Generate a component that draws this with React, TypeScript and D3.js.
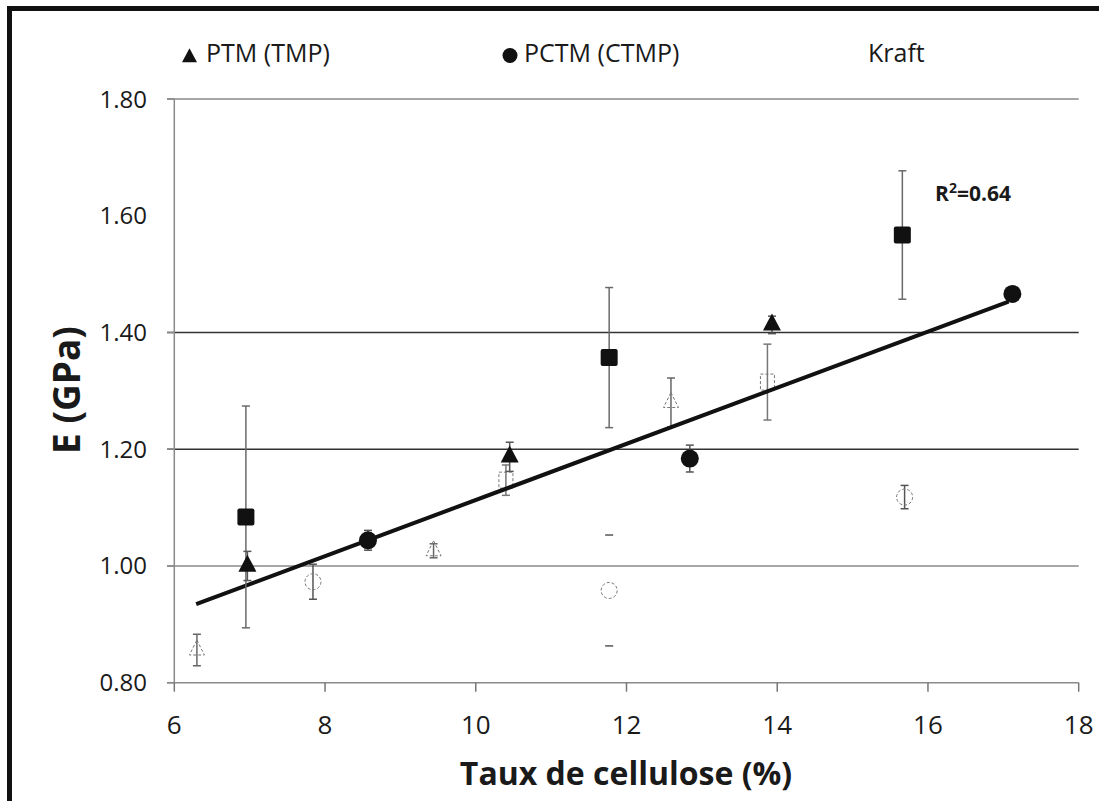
import React from "react";
import * as d3 from "d3";

// ---- data ----
const xTicks = [6, 8, 10, 12, 14, 16, 18];
const yTicks = [0.8, 1.0, 1.2, 1.4, 1.6, 1.8];
const yTickMarks = [0.8, 1.0, 1.2, 1.4, 1.8];
const darkGrid = [1.2, 1.4];
const lightGrid = [1.0, 1.8];

// filled series
const tmpX = [6.97, 10.45, 13.93];
const tmpY = [1.0, 1.187, 1.413];
const tmpErr = [0.025, 0.025, 0.015];

const ctmpX = [8.57, 12.84, 17.12];
const ctmpY = [1.044, 1.184, 1.466];
const ctmpErr = [0.017, 0.023, 0];

const kraftX = [6.95, 11.77, 15.66];
const kraftY = [1.084, 1.357, 1.567];
const kraftErr = [0.19, 0.12, 0.11];

// open (dashed) series
const tmpOpenX = [6.3, 9.44, 12.59];
const tmpOpenY = [0.856, 1.026, 1.28];
const tmpOpenErr = [0.027, 0.012, 0.042];

const ctmpOpenX = [7.84, 11.77, 15.69];
const ctmpOpenY = [0.973, 0.958, 1.118];
const ctmpOpenErr = [0.03, 0.095, 0.02];
const ctmpOpenErrLineVisible = [true, false, true];

const kraftOpenX = [10.4, 13.87];
const kraftOpenY = [1.147, 1.315];
const kraftOpenErr = [0.026, 0.065];

// linear trend
const trendSlope = 0.0481;
const trendIntercept = 0.632;
const trendXRange = [6.29, 17.07];
const r2Label = "0.64";

const legendLabels = ["PTM (TMP)", "PCTM (CTMP)", "Kraft"];
const xTitle = "Taux de cellulose (%)";
const yTitle = "E (GPa)";

const FONT = "'Open Sans', 'Noto Sans', sans-serif";

function tri(w: number, h: number) {
  const p = d3.path();
  p.moveTo(0, -(h * 2) / 3);
  p.lineTo(w / 2, h / 3);
  p.lineTo(-w / 2, h / 3);
  p.closePath();
  return p.toString();
}

export default function App() {
  const W = 1099;
  const H = 801;
  const x = d3.scaleLinear().domain([6, 18]).range([174.3, 1078.7]);
  const y = d3.scaleLinear().domain([0.8, 1.8]).range([682.7, 99]);
  const fmt = d3.format(".2f");

  const errBar = (
    xs: number[],
    ys: number[],
    es: number[],
    key: string,
    color = "#6a6a6a",
    showLine?: boolean[]
  ) =>
    xs.map((xv, i) =>
      es[i] > 0 ? (
        <g key={key + i}>
          {(showLine ? showLine[i] : true) && (
            <line
              x1={x(xv)}
              x2={x(xv)}
              y1={y(ys[i] - es[i])}
              y2={y(ys[i] + es[i])}
              stroke={color}
              strokeWidth={1.5}
            />
          )}
          <line
            x1={x(xv) - 4}
            x2={x(xv) + 4}
            y1={y(ys[i] + es[i])}
            y2={y(ys[i] + es[i])}
            stroke={color}
            strokeWidth={1.5}
          />
          <line
            x1={x(xv) - 4}
            x2={x(xv) + 4}
            y1={y(ys[i] - es[i])}
            y2={y(ys[i] - es[i])}
            stroke={color}
            strokeWidth={1.5}
          />
        </g>
      ) : null
    );

  const trendLine = d3
    .line<number>()
    .x((d) => x(d))
    .y((d) => y(trendIntercept + trendSlope * d));

  const openStyle = {
    fill: "none",
    stroke: "#777",
    strokeWidth: 1,
    strokeDasharray: "3,2",
  };

  return (
    <svg
      width={W}
      height={H}
      style={{ position: "absolute", left: 0, top: 0, background: "#fff" }}
      fontFamily={FONT}
    >
      <rect x={0} y={0} width={W} height={H} fill="#fff" />
      {/* frame */}
      <line x1={7} x2={W} y1={8.5} y2={8.5} stroke="#111" strokeWidth={5} />
      <line x1={9.5} x2={9.5} y1={6} y2={H} stroke="#111" strokeWidth={5} />

      {/* gridlines */}
      {lightGrid.map((v) => (
        <line key={"lg" + v} x1={167} x2={1078.7} y1={y(v)} y2={y(v)} stroke="#8a8a8a" strokeWidth={1.5} />
      ))}
      {darkGrid.map((v) => (
        <line key={"dg" + v} x1={167} x2={1078.7} y1={y(v)} y2={y(v)} stroke="#333" strokeWidth={1.5} />
      ))}

      {/* axes */}
      <line x1={x(6)} x2={x(6)} y1={y(1.8)} y2={y(0.8)} stroke="#8a8a8a" strokeWidth={1.5} />
      <line x1={167} x2={x(18)} y1={y(0.8)} y2={y(0.8)} stroke="#8a8a8a" strokeWidth={1.5} />
      {yTickMarks.map((v) => (
        <line key={"ytm" + v} x1={167} x2={x(6)} y1={y(v)} y2={y(v)} stroke="#8a8a8a" strokeWidth={1.5} />
      ))}
      {xTicks.map((v) => (
        <line key={"xtm" + v} x1={x(v)} x2={x(v)} y1={y(0.8)} y2={y(0.8) + 9} stroke="#777" strokeWidth={1.5} />
      ))}

      {/* tick labels */}
      {yTicks.map((v) => (
        <text key={"yl" + v} x={147} y={y(v) + 8.5} textAnchor="end" fontSize={24} fill="#1a1a1a">
          {fmt(v)}
        </text>
      ))}
      {xTicks.map((v) => (
        <text key={"xl" + v} x={x(v)} y={734} textAnchor="middle" fontSize={26} fill="#1a1a1a">
          {v}
        </text>
      ))}

      {/* axis titles */}
      <text x={626} y={785} textAnchor="middle" fontSize={32} fontWeight="bold" fill="#1a1a1a">
        {xTitle}
      </text>
      <text
        transform={`translate(80,390) rotate(-90)`}
        textAnchor="middle"
        fontSize={37}
        fontWeight="bold"
        fill="#1a1a1a"
      >
        {yTitle}
      </text>

      {/* legend */}
      <path d={tri(15, 14)} transform="translate(189.5,57.5)" fill="#111" />
      <text x={206} y={62} fontSize={25} fill="#1a1a1a">{legendLabels[0]}</text>
      <circle cx={510} cy={55.5} r={7.5} fill="#111" />
      <text x={524} y={62} fontSize={25} fill="#1a1a1a">{legendLabels[1]}</text>
      <text x={868} y={62} fontSize={25} fill="#1a1a1a">{legendLabels[2]}</text>

      {/* open series */}
      {errBar(tmpOpenX, tmpOpenY, tmpOpenErr, "toe", "#666")}
      {errBar(ctmpOpenX, ctmpOpenY, ctmpOpenErr, "coe", "#555", ctmpOpenErrLineVisible)}
      {errBar(kraftOpenX, kraftOpenY, kraftOpenErr, "koe", "#777")}
      {tmpOpenX.map((xv, i) => (
        <path key={"to" + i} d={tri(15, 15)} transform={`translate(${x(xv)},${y(tmpOpenY[i])})`} {...openStyle} />
      ))}
      {ctmpOpenX.map((xv, i) => (
        <circle key={"co" + i} cx={x(xv)} cy={y(ctmpOpenY[i])} r={8} {...openStyle} />
      ))}
      {kraftOpenX.map((xv, i) => (
        <rect key={"ko" + i} x={x(xv) - 7} y={y(kraftOpenY[i]) - 8} width={14} height={16} {...openStyle} />
      ))}

      {/* trend line */}
      <path d={trendLine(trendXRange) ?? ""} fill="none" stroke="#111" strokeWidth={4} />

      {/* filled series */}
      {errBar(kraftX, kraftY, kraftErr, "ke", "#6a6a6a")}
      {errBar(tmpX, tmpY, tmpErr, "te", "#555")}
      {errBar(ctmpX, ctmpY, ctmpErr, "ce", "#555")}
      {kraftX.map((xv, i) => (
        <rect key={"k" + i} x={x(xv) - 8.5} y={y(kraftY[i]) - 8.5} width={17} height={17} rx={2} fill="#111" />
      ))}
      {tmpX.map((xv, i) => (
        <path key={"t" + i} d={tri(18, 17)} transform={`translate(${x(xv)},${y(tmpY[i])})`} fill="#111" />
      ))}
      {ctmpX.map((xv, i) => (
        <circle key={"c" + i} cx={x(xv)} cy={y(ctmpY[i])} r={9} fill="#111" />
      ))}

      {/* R² */}
      <text x={935} y={201} fontSize={21} fontWeight="bold" fill="#1a1a1a">
        R<tspan dy={-8} fontSize={14}>2</tspan>
        <tspan dy={8}>={r2Label}</tspan>
      </text>
    </svg>
  );
}
